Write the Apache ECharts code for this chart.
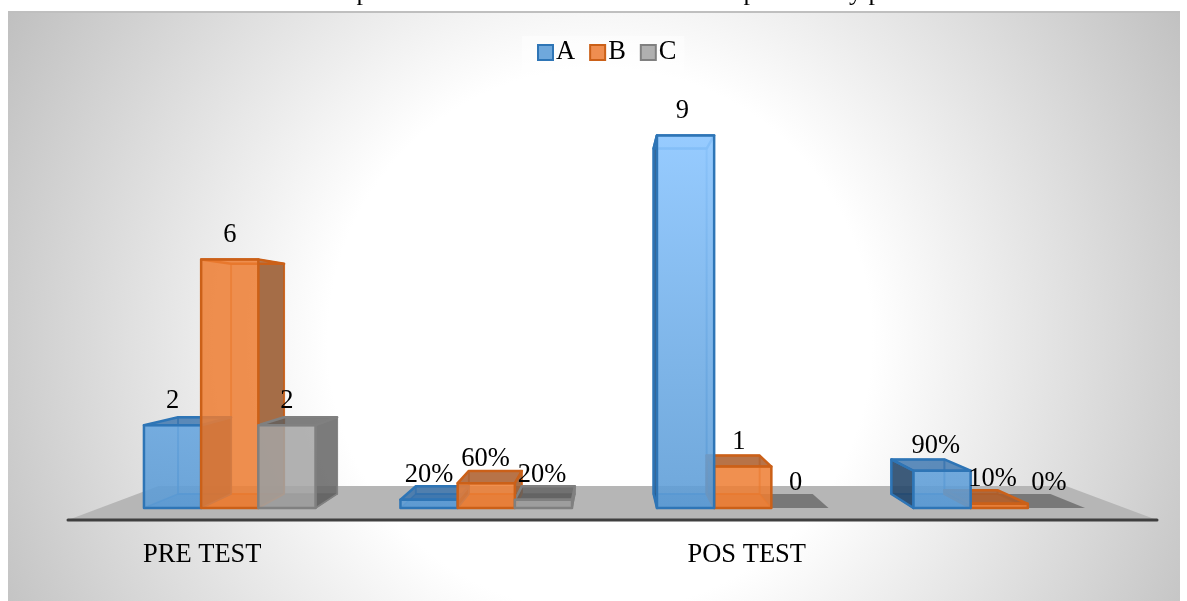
<!DOCTYPE html>
<html><head><meta charset="utf-8">
<style>html,body{margin:0;padding:0;background:#fff}#c{width:1187px;height:601px}</style>
<script src="https://cdn.jsdelivr.net/npm/echarts@6/dist/echarts.min.js"></script>
</head><body><div id="c"></div>
<script>
const categories = ['PRE TEST', '', 'POS TEST', ''];
const valuesA = [2, 0.2, 9, 0.9];
const valuesB = [6, 0.6, 1, 0.1];
const valuesC = [2, 0.2, 0, 0];
const labelsA = ['2', '20%', '9', '90%'];
const labelsB = ['6', '60%', '1', '10%'];
const labelsC = ['2', '20%', '0', '0%'];
const titleFragments = ['p', 'p', 'y p'];

const FONT = '"Liberation Serif","Times New Roman",serif';
const FS = 26.5;
const VP = [611, 316], DEPTH = 0.927, BAR = 57.2;
const project = (p, s) => [VP[0] + s * (p[0] - VP[0]), VP[1] + s * (p[1] - VP[1])];
const bluePaint = {type:'linear',global:true,x:0,y:135,x2:0,y2:508,colorStops:[
  {offset:0,color:'rgba(142,199,255,0.92)'},{offset:1,color:'rgba(91,155,213,0.88)'}]};
const looks = [
  {front:bluePaint, edge:'#2E75B6', back:'rgba(46,117,182,0.7)', side:'rgba(35,70,105,0.88)', top:'rgba(50,110,170,0.78)', base:'rgba(70,130,190,0.55)'},
  {front:'rgba(237,125,49,0.85)', edge:'#CB6018', back:'rgba(203,96,24,0.6)', side:'rgba(150,85,40,0.85)', top:'rgba(170,90,40,0.85)', base:'rgba(200,110,50,0.55)'},
  {front:'rgba(165,165,165,0.85)', edge:'#808080', back:'rgba(120,120,120,0.6)', side:'rgba(100,100,100,0.85)', top:'rgba(95,95,95,0.8)', base:'rgba(105,105,105,0.8)'}
];

function box(idx, labels) {
  return function (params, api) {
    const cat = api.value(0), val = api.value(1);
    const base = api.coord([cat, 0]), topP = api.coord([cat, val]);
    const cx = base[0] + (idx - 1) * BAR;
    const l = cx - BAR / 2, r = cx + BAR / 2, b = base[1], t = topP[1];
    const st = looks[idx];
    const A = [l, t], B = [r, t], C = [r, b], D = [l, b];
    const a = project(A, DEPTH), bb = project(B, DEPTH), c = project(C, DEPTH), d = project(D, DEPTH);
    const order = cx > VP[0] ? 2 - idx : idx;
    const poly = (pts, fill, stroke, w, z2) => ({type:'polygon', z2, shape:{points:pts},
      style:{fill:fill, stroke:stroke, lineWidth:w, lineJoin:'round'}});
    const kids = [];
    if (val === 0) {
      kids.push(poly([D, C, c, d], st.base, null, 0, 1));
    } else {
      kids.push(poly([a, bb, c, d], 'rgba(255,255,255,0.05)', st.back, 2, 1 + order));
      kids.push(poly([D, C, c, d], st.base, st.back, 1.5, 1 + order));
      if (r < VP[0]) kids.push(poly([B, C, c, bb], st.side, st.edge, 1.5, 5 + order));
      if (l > VP[0]) kids.push(poly([A, D, d, a], st.side, st.edge, 2.5, 5 + order));
      kids.push(poly([A, B, bb, a], t > VP[1] ? st.top : 'rgba(255,255,255,0.12)', st.edge, 2.5, 5 + order));
      kids.push(poly([A, B, C, D], st.front, st.edge, 2.5, 20 + order));
    }
    const dx = cx > 430 ? -(cx - 430) * 0.012 : 0;
    kids.push({type:'text', z2:50, style:{text:labels[cat], x:cx + dx, y:t - 24.5,
      fill:'#000', font:FS + 'px ' + FONT, align:'center', verticalAlign:'middle'}});
    return {type:'group', children:kids};
  };
}

function floorItem(params, api) {
  const cs = params.coordSys;
  const y = api.coord([0, 0])[1];
  const xl = cs.x - 33.5, xr = cs.x + cs.width + 29.5, yf = y + 12;
  const s = (486 - VP[1]) / (yf - VP[1]);
  const P = [xl, yf], Q = [xr, yf];
  return {type:'group', children:[
    {type:'polygon', shape:{points:[P, Q, project(Q, s), project(P, s)]}, style:{fill:'#B6B6B6'}},
    {type:'line', shape:{x1:xl, y1:yf, x2:xr, y2:yf}, style:{stroke:'#3F3F3F', lineWidth:3, lineCap:'round'}}
  ]};
}

const makeSeries = (name, vals, idx, labels) => ({
  name, type:'custom', coordinateSystem:'cartesian2d', z:3,
  itemStyle:{color:['#6FA8DC','#EF8E50','#B0B0B0'][idx], borderColor:['#2E75B6','#CB6018','#808080'][idx], borderWidth:2},
  renderItem:box(idx, labels), clip:false,
  encode:{x:0, y:1}, data:vals.map((v, i) => [i, v])
});

const titleStyle = (text, x) => ({type:'text', z:-5, silent:true, style:{text, x, y:6, fill:'#000',
  font:'26px ' + FONT, align:'left', verticalAlign:'bottom'}});

const chart = echarts.init(document.getElementById('c'), null, {renderer:'canvas'});
chart.setOption({
  animation:false,
  graphic:[{type:'rect', z:-10, silent:true, shape:{x:8, y:12, width:1172, height:589},
    style:{stroke:null, fill:{type:'radial', global:true, x:600, y:340, r:680, colorStops:[
      {offset:0,color:'#FFFFFF'},{offset:0.4,color:'#FFFFFF'},{offset:1,color:'#BFBFBF'}]}}},
    {type:'rect', z:-9, silent:true, shape:{x:8, y:11, width:1172, height:2}, style:{fill:'#BFBFBF'}},
    titleStyle(titleFragments[0], 356.5), titleStyle(titleFragments[1], 743.5), titleStyle(titleFragments[2], 849)],
  legend:{left:522, top:36, padding:[3,8,11,15], itemGap:14, itemWidth:15, itemHeight:15, icon:'rect',
    backgroundColor:'rgba(255,255,255,0.45)', data:['A','B','C'],
    textStyle:{fontFamily:FONT, fontSize:FS, color:'#000', padding:[0,0,0,-2]}},
  grid:{left:101.5, width:1026, top:94, height:414},
  xAxis:{type:'category', data:categories, axisLine:{show:false}, axisTick:{show:false},
    axisLabel:{interval:0, margin:34, formatter:(v, i) => v ? '{' + (i === 0 ? 'pre' : 'pos') + '|' + v + '}' : '',
      rich:{pre:{fontFamily:FONT, fontSize:FS, color:'#000', padding:[0,55,0,0]},
            pos:{fontFamily:FONT, fontSize:FS, color:'#000', padding:[0,0,0,8]}}}},
  yAxis:{type:'value', min:0, max:10, show:false},
  series:[
    {type:'custom', coordinateSystem:'cartesian2d', z:1, silent:true, clip:false, renderItem:floorItem, data:[[0,0]], encode:{x:0,y:1}},
    makeSeries('A', valuesA, 0, labelsA),
    makeSeries('B', valuesB, 1, labelsB),
    makeSeries('C', valuesC, 2, labelsC)
  ]
});
</script></body></html>
